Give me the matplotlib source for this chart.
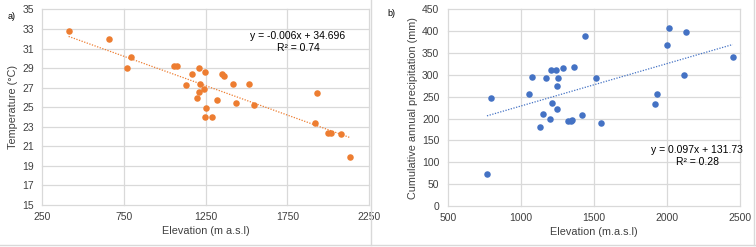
import numpy as np
import matplotlib.pyplot as plt
from matplotlib.lines import Line2D

# panel a: elevation vs temperature
elev_a = [410, 659, 792, 766, 1058, 1076, 1131, 1168, 1209, 1246,
          1217, 1240, 1207, 1195, 1250, 1246, 1286, 1321, 1348, 1364,
          1419, 1436, 1513, 1544, 1932, 1920, 1997, 2015, 2077, 2136]
temp_a = [32.75, 31.97, 30.13, 28.97, 29.2, 29.17, 27.27, 28.42, 29.0, 28.56,
          27.33, 26.82, 26.52, 25.97, 24.94, 24.02, 24.02, 25.73, 28.39, 28.15,
          27.33, 25.45, 27.33, 25.25, 26.41, 23.41, 22.32, 22.32, 22.22, 19.87]
slope_a, icpt_a, r2_a = -0.006, 34.696, 0.74

# panel b: elevation vs cumulative precipitation
elev_b = [769, 797, 1057, 1078, 1132, 1153, 1171, 1199, 1208, 1215,
          1240, 1249, 1249, 1256, 1288, 1322, 1343, 1352, 1368, 1422,
          1438, 1514, 1548, 1920, 1934, 2000, 2016, 2121, 2135, 2452]
prec_b = [74, 248, 256, 295, 180, 210, 292, 198, 312, 235,
          312, 222, 275, 292, 316, 194, 195, 196, 319, 208,
          389, 294, 190, 233, 257, 368, 407, 300, 399, 341]
slope_b, icpt_b, r2_b = 0.097, 131.73, 0.28

plt.rcParams['font.family'] = ['Liberation Sans', 'DejaVu Sans']
grid_c = '#d9d9d9'
txt_c = '#404040'

fig = plt.figure(figsize=(7.56, 2.47), dpi=100)
ax1 = fig.add_axes([0.0562, 0.170, 0.4319, 0.792])
ax2 = fig.add_axes([0.5922, 0.166, 0.3862, 0.796])


def style(ax):
    for s in ax.spines.values():
        s.set_visible(False)
    ax.grid(True, color=grid_c, lw=0.9)
    ax.set_axisbelow(True)
    ax.tick_params(length=0, labelsize=7.5, colors=txt_c)
    ax.tick_params(axis='y', pad=6)
    ax.tick_params(axis='x', pad=5)
    for gl in ax.get_xgridlines() + ax.get_ygridlines():
        gl.set_clip_on(False)


# panel a
ax1.scatter(elev_a, temp_a, s=22, color='#ED7D31', zorder=3, linewidths=0)
xa = np.array([min(elev_a), max(elev_a)])
ax1.plot(xa, slope_a * xa + icpt_a, color='#ED7D31', lw=0.9, ls=(0, (1, 1.2)))
ax1.set_xlim(250, 2250)
ax1.set_ylim(15, 35)
ax1.set_xticks(np.arange(250, 2251, 500))
ax1.set_yticks(np.arange(15, 36, 2))
style(ax1)
ax1.set_xlabel('Elevation (m a.s.l)', fontsize=7.8, color=txt_c, labelpad=3)
ax1.set_ylabel('Temperature (°C)', fontsize=7.8, color=txt_c, labelpad=3)
ax1.text(0.7825, 0.833, f'y = {slope_a}x + {icpt_a}\nR² = {r2_a}', transform=ax1.transAxes,
         ha='center', va='center', fontsize=7.5, color='black',
         linespacing=1.15)

# panel b
ax2.scatter(elev_b, prec_b, s=22, color='#4472C4', zorder=3, linewidths=0)
xb = np.array([min(elev_b), max(elev_b)])
ax2.plot(xb, slope_b * xb + icpt_b, color='#4472C4', lw=0.9, ls=(0, (1, 1.2)))
ax2.set_xlim(500, 2500)
ax2.set_ylim(0, 450)
ax2.set_xticks(np.arange(500, 2501, 500))
ax2.set_yticks(np.arange(0, 451, 50))
style(ax2)
ax2.set_xlabel('Elevation (m.a.s.l)', fontsize=7.8, color=txt_c, labelpad=3)
ax2.set_ylabel('Cumulative annual precipitation (mm)', fontsize=7.8, color=txt_c, labelpad=3)
ax2.text(0.855, 0.254, f'y = {slope_b}x + {icpt_b}\nR² = {r2_b}', transform=ax2.transAxes,
         ha='center', va='center', fontsize=7.5, color='black',
         linespacing=1.15)

fig.text(0.010, 0.925, 'a)', fontsize=6.5, color='black')
fig.text(0.512, 0.935, 'b)', fontsize=6.5, color='black')

# chart area borders
fig.add_artist(Line2D([0, 1], [0.008, 0.008], color=grid_c, lw=1))
fig.add_artist(Line2D([0.491, 0.491], [0.008, 1], color=grid_c, lw=1))
fig.add_artist(Line2D([0.998, 0.998], [0.008, 1], color=grid_c, lw=1))

fig.savefig('out.png', dpi=100)
